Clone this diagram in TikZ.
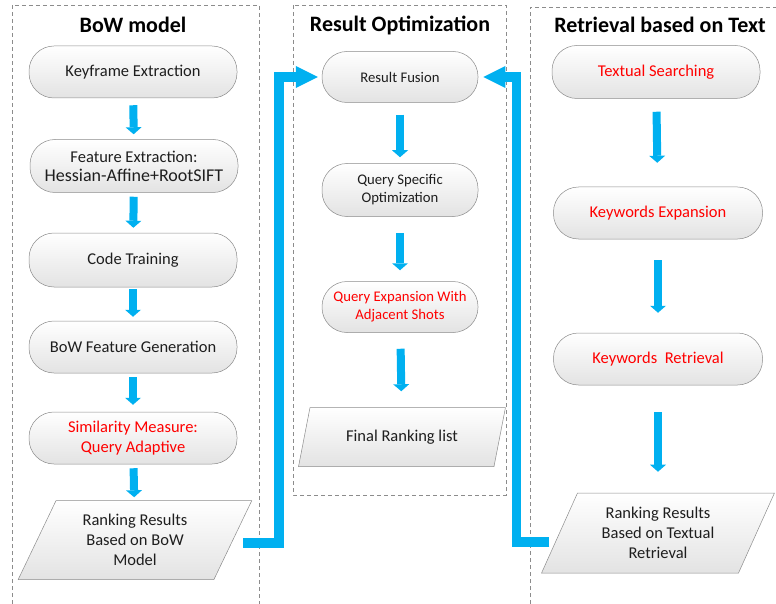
\documentclass[tikz,border=0pt]{standalone}
\usepackage{fontspec}
\setmainfont{Carlito}
\usepackage{tikz}
\usepackage{xcolor}
\usetikzlibrary{shapes.geometric}
\usetikzlibrary{arrows.meta}

\definecolor{flowblue}{RGB}{0,176,240}
\definecolor{frameline}{RGB}{140,140,140}
\definecolor{textdark}{RGB}{30,30,30}

\begin{document}
\begin{tikzpicture}[x=1pt, y=-1pt,
    stepnode/.style={draw=frameline, line width=0.5pt, rounded corners=25pt,
        top color=white, bottom color=black!11, minimum width=208pt, minimum height=52pt,
        align=center, text=textdark, font=\fontsize{16.5}{20}\selectfont, inner sep=2pt},
    ionode/.style={trapezium, trapezium left angle=64, trapezium right angle=116,
        trapezium stretches=true, draw=frameline, line width=0.5pt,
        top color=white, bottom color=black!11, align=center, text=textdark,
        font=\fontsize{16.5}{20}\selectfont, inner sep=0pt},
    groupbox/.style={draw=frameline, line width=0.8pt, dash pattern=on 4pt off 3pt},
    title/.style={font=\fontsize{22}{26}\selectfont\bfseries, text=black},
    flowarrow/.style={draw=flowblue, line width=8pt, -{Triangle[width=16pt, length=7pt, line width=0pt]}},
    bigarrow/.style={draw=flowblue, line width=9.5pt, -{Triangle[width=22pt, length=22pt, line width=0pt]}},
    hot/.style={text=red},
    midfont/.style={font=\fontsize{14.7}{18}\selectfont}]
    % Page size of the reference (776 x 604)
    \useasboundingbox (0,0) rectangle (776,604);

    % Dashed group frames
    \draw[groupbox] (12,604) -- (12,5) -- (259,5) -- (259,604);% BoW model
    \draw[groupbox] (293,5) rectangle (506,495);% Result Optimization
    \draw[groupbox] (530,604) -- (530,7) -- (776,7);% Retrieval based on Text

    % Titles
    \node[title] (tbow) at (133,25) {BoW model};
    \node[title] (topt) at (400,25) {Result Optimization};
    \node[title] (ttxt) at (660,25) {Retrieval based on Text};

    % Left column
    \node[stepnode] (kf) at (133,72) {Keyframe Extraction};
    \node[stepnode, minimum height=53pt] (fe) at (134,166) {Feature Extraction:\\[-1pt]{\fontsize{18}{20}\selectfont Hessian-Affine+RootSIFT}};
    \node[stepnode, minimum height=54pt] (ct) at (133,260) {Code Training};
    \node[stepnode] (bfg) at (133,347) {BoW Feature Generation};
    \node[stepnode, hot] (sm) at (133,438) {Similarity Measure:\\Query Adaptive};
    \node[ionode, minimum width=234pt, minimum height=79pt] (rrbow) at (135,540) {Ranking Results\\Based on BoW\\Model};

    % Middle column
    \node[stepnode, midfont, minimum width=156pt, minimum height=51pt] (rf) at (400,77) {Result Fusion};
    \node[stepnode, midfont, minimum width=156pt, minimum height=53pt] (qs) at (400,190) {Query Specific\\Optimization};
    \node[stepnode, midfont, hot, minimum width=156pt, minimum height=51pt] (qe) at (400,307) {Query Expansion With\\Adjacent Shots};
    \node[ionode, minimum width=207pt, minimum height=59pt] (fr) at (402,437) {Final Ranking list};

    % Right column
    \node[stepnode, hot, minimum height=53pt] (ts) at (656,72) {Textual Searching};
    \node[stepnode, hot, minimum width=209pt] (ke) at (658,213) {Keywords Expansion};
    \node[stepnode, hot, minimum width=209pt] (kr) at (658,359) {Keywords~~Retrieval};
    \node[ionode, minimum width=233pt, minimum height=80pt] (rrtxt) at (658,533) {Ranking Results\\Based on Textual\\Retrieval};

    % Small flow arrows
    \draw[flowarrow, shorten <=7pt, shorten >=5pt] (kf) -- (fe);
    \draw[flowarrow, shorten <=4pt, shorten >=5pt] (fe) -- (ct);
    \draw[flowarrow, shorten <=2pt, shorten >=4pt] (ct) -- (bfg);
    \draw[flowarrow, shorten <=4pt, shorten >=7pt] (bfg) -- (sm);
    \draw[flowarrow, shorten <=4pt, shorten >=3pt] (sm) -- (rrbow);
    \draw[flowarrow, shorten <=12pt, shorten >=6pt] (rf) -- (qs);
    \draw[flowarrow, shorten <=16pt, shorten >=11pt] (qs) -- (qe);
    \draw[flowarrow, shorten <=16pt, shorten >=16pt] (qe) -- (fr);
    \draw[flowarrow, shorten <=13pt, shorten >=24pt] (ts) -- (ke);
    \draw[flowarrow, shorten <=21pt, shorten >=20pt] (ke) -- (kr);
    \draw[flowarrow, shorten <=27pt, shorten >=21pt] (kr) -- (rrtxt);

    % Both ranking lists feed the fusion step
    \draw[bigarrow, shorten <=10pt, shorten >=4pt] ([yshift=-3pt]rrbow.east) -- ++(46,0) |- (rf.west);
    \draw[bigarrow, shorten <=10pt, shorten >=5pt] ([yshift=-9pt]rrtxt.west) -- ++(-43,0) |- (rf.east);
\end{tikzpicture}
\end{document}
